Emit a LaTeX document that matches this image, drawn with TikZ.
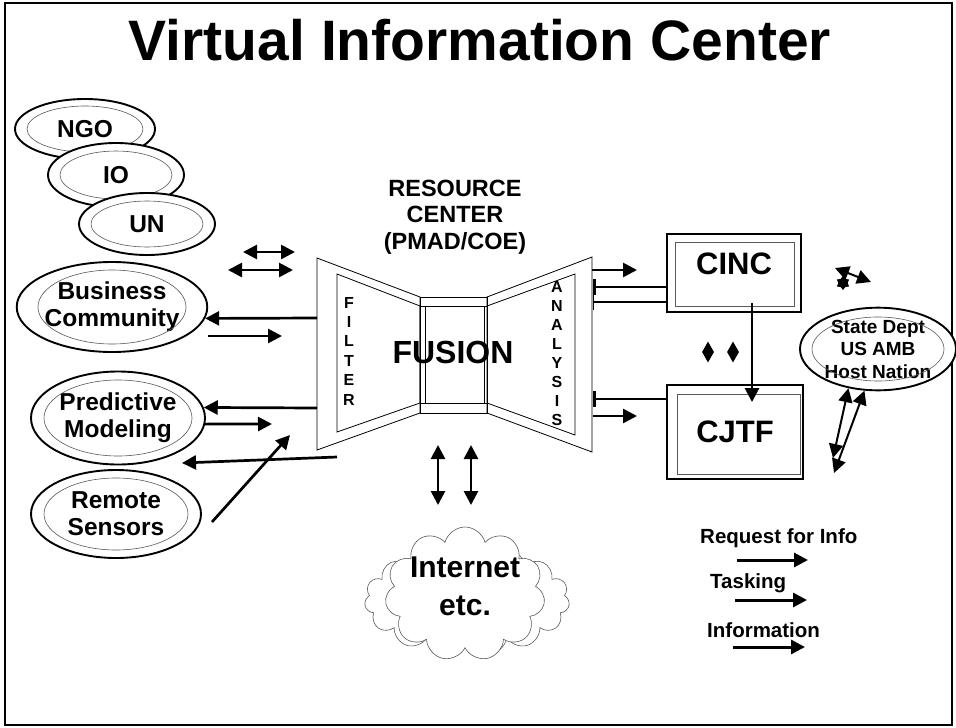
\documentclass[tikz,border=0pt]{standalone}
\usepackage{fontspec}
\setmainfont{Liberation Sans}
\usetikzlibrary{arrows.meta,shapes.geometric,shapes.symbols}

\begin{document}
\begin{tikzpicture}[x=1pt, y=-1pt,
    org/.style={draw, ellipse, line width=1.9pt, fill=white, inner sep=0pt, align=center,
      font=\fontsize{24.5}{27}\selectfont\bfseries},
    inring/.style={black!65, line width=0.6pt},
    box/.style={draw, line width=1.9pt, inner sep=0pt, font=\fontsize{31}{31}\selectfont\bfseries},
    wing/.style={line width=0.8pt},
    arr/.style={line width=2.7pt, -{Triangle[length=14pt,width=14pt]}},
    biarr/.style={line width=2.7pt, {Triangle[length=14pt,width=14pt]}-{Triangle[length=14pt,width=14pt]}},
    tee/.style={line width=2.7pt, {Bar[width=16pt]}-},
    lbl/.style={inner sep=0pt, font=\fontsize{20.5}{20.5}\selectfont\bfseries}]
  \useasboundingbox (0,0) rectangle (956,728);
  \draw[line width=1.6pt] (5,3) rectangle (952,725);
  \node[inner sep=0pt, font=\fontsize{57}{57}\selectfont\bfseries] (title) at (480,40) {Virtual Information Center};

  % sources on the left
  \node[org, minimum width=140pt, minimum height=60pt] (ngo) at (85,129) {NGO};
  \draw[inring] (ngo.center) ellipse [x radius=58, y radius=23];
  \node[org, minimum width=136pt, minimum height=64pt] (io) at (116,175) {IO};
  \draw[inring] (io.center) ellipse [x radius=56, y radius=24];
  \node[org, minimum width=136pt, minimum height=62pt] (un) at (147,224) {UN};
  \draw[inring] (un.center) ellipse [x radius=56, y radius=23];
  \node[org, minimum width=176pt, minimum height=90pt] (bc) at (112,307) {Business\\Community};
  \draw[inring] (bc.center) ellipse [x radius=74, y radius=37];
  \node[org, minimum width=174pt, minimum height=93pt] (pm) at (118,418) {Predictive\\Modeling};
  \draw[inring] (pm.center) ellipse [x radius=74, y radius=38];
  \node[org, minimum width=170pt, minimum height=88pt] (rs) at (116,514) {Remote\\Sensors};
  \draw[inring] (rs.center) ellipse [x radius=72, y radius=36];

  % resource center
  \node[inner sep=0pt, align=center, font=\fontsize{23.5}{26.5}\selectfont\bfseries] (resource) at (455,217) {RESOURCE\\CENTER\\(PMAD/COE)};
  \draw[wing] (317,258) -- (420,297) -- (420,413) -- (317,450) -- cycle;
  \draw[wing] (337,274) -- (420,306) -- (420,403) -- (337,432) -- cycle;
  \draw[wing] (420,297) rectangle (487,413);
  \draw[wing] (420,306) -- (487,306) (420,403) -- (487,403) (425,306) -- (425,403) (484,306) -- (484,403);
  \draw[wing] (487,297) -- (592,257) -- (592,452) -- (487,413) -- cycle;
  \draw[wing] (487,306) -- (575,274) -- (575,435) -- (487,403);
  \node[inner sep=0pt, font=\fontsize{32}{32}\selectfont\bfseries] (fusion) at (453,352) {FUSION};
  \node[inner sep=0pt, align=center, font=\fontsize{16}{19.4}\selectfont\bfseries] (filter) at (349,351) {F\\I\\L\\T\\E\\R};
  \node[inner sep=0pt, align=center, font=\fontsize{16}{19}\selectfont\bfseries] (analysis) at (557,354) {A\\N\\A\\L\\Y\\S\\I\\S};

  % internet cloud
  \node[cloud, cloud puffs=15, cloud ignores aspect, draw=black!65, line width=0.6pt, minimum width=205pt, minimum height=112pt] (cloudb) at (467,600) {};
  \node[cloud, cloud puffs=11, cloud ignores aspect, draw=black!65, fill=white, line width=0.6pt, minimum width=160pt, minimum height=134pt] (cloudf) at (465,594) {};
  \node[inner sep=0pt, align=center, font=\fontsize{30}{38}\selectfont\bfseries] (net) at (465,586) {Internet\\etc.};

  % commands
  \node[box, minimum width=134pt, minimum height=78pt, text depth=18pt] (cinc) at (734,273) {CINC};
  \draw[inring] ([shift={(9,9)}]cinc.north west) rectangle ([shift={(-8,-7)}]cinc.south east);
  \node[box, minimum width=136pt, minimum height=94pt] (cjtf) at (735,432) {CJTF};
  \draw[inring] ([shift={(11,10)}]cjtf.north west) rectangle ([shift={(-4,-6)}]cjtf.south east);
  \node[org, minimum width=156pt, minimum height=82pt, font=\fontsize{19}{22.5}\selectfont\bfseries] (sd) at (878,349) {State Dept\\US AMB\\Host Nation};
  \draw[inring] (sd.center) ellipse [x radius=66, y radius=32];

  % arrows on the left
  \coordinate (ex1) at (243,252);
  \coordinate (ex2) at (295,252);
  \coordinate (ex3) at (228,270);
  \coordinate (ex4) at (293,270);
  \draw[biarr] (ex1) -- (ex2);
  \draw[biarr] (ex3) -- (ex4);
  \coordinate (fbc) at (317,318);
  \draw[arr] (fbc) -- (bc.-7);
  \coordinate (bc1) at (208,336);
  \coordinate (bc2) at (282,336);
  \draw[arr] (bc1) -- (bc2);
  \coordinate (fpm) at (317,408);
  \draw[arr] (fpm) -- (pm.7);
  \coordinate (pmo) at (272,424);
  \draw[arr] (pm.-4) -- (pmo);
  \coordinate (bk1) at (337,457);
  \coordinate (bk2) at (182,463);
  \draw[arr] (bk1) -- (bk2);
  \coordinate (rs1) at (212,522);
  \coordinate (rs2) at (290,435);
  \draw[arr] (rs1) -- (rs2);

  % arrows to the internet
  \coordinate (nt1) at (438,445);
  \coordinate (nb1) at (438,505);
  \coordinate (nt2) at (471,445);
  \coordinate (nb2) at (471,505);
  \draw[biarr] (nt1) -- (nb1);
  \draw[biarr] (nt2) -- (nb2);

  % arrows on the right
  \coordinate (an1) at (592,270);
  \coordinate (an2) at (637,270);
  \draw[arr] (an1) -- (an2);
  \coordinate (ac1) at (593,287);
  \draw[tee] (ac1) -- (ac1 -| cinc.west);
  \coordinate (ac2) at (593,302);
  \draw[tee, line width=1.4pt] (ac2) -- (ac2 -| cinc.west);
  \coordinate (ac3) at (593,399);
  \draw[tee] (ac3) -- (ac3 -| cjtf.west);
  \coordinate (an3) at (593,416);
  \coordinate (an4) at (637,416);
  \draw[arr] (an3) -- (an4);
  \draw[arr] ([xshift=18pt,yshift=10pt]cinc.south) -- ([xshift=17pt,yshift=-18pt]cjtf.north);
  \node[diamond, fill, inner sep=0pt, minimum width=12pt, minimum height=21pt] (dm1) at (708,352) {};
  \node[diamond, fill, inner sep=0pt, minimum width=12pt, minimum height=21pt] (dm2) at (733,352) {};
  \node[star, star points=6, fill, inner sep=0pt, minimum size=14pt] (st) at (843,283) {};
  \coordinate (sa1) at (835,268);
  \coordinate (sa2) at (871,282);
  \draw[biarr, line width=2pt] (sa1) -- (sa2);
  \coordinate (sd1) at (833,458);
  \coordinate (sd2) at (834,473);
  \draw[biarr, line width=2pt] (sd.233) -- (sd1);
  \draw[biarr, line width=2pt] (sd.252) -- (sd2);

  % legend
  \node[lbl, anchor=west] (rfi) at (700,538) {Request for Info};
  \node[lbl, anchor=west] (task) at (710,583) {Tasking};
  \node[lbl, anchor=west] (info) at (707,630) {Information};
  \coordinate (lg1) at (737,560);
  \coordinate (lg2) at (808,560);
  \coordinate (lg3) at (735,600);
  \coordinate (lg4) at (807,600);
  \coordinate (lg5) at (733,647);
  \coordinate (lg6) at (805,647);
  \draw[arr, line width=3pt] (lg1) -- (lg2);
  \draw[arr, line width=3pt] (lg3) -- (lg4);
  \draw[arr, line width=3pt] (lg5) -- (lg6);
\end{tikzpicture}
\end{document}
